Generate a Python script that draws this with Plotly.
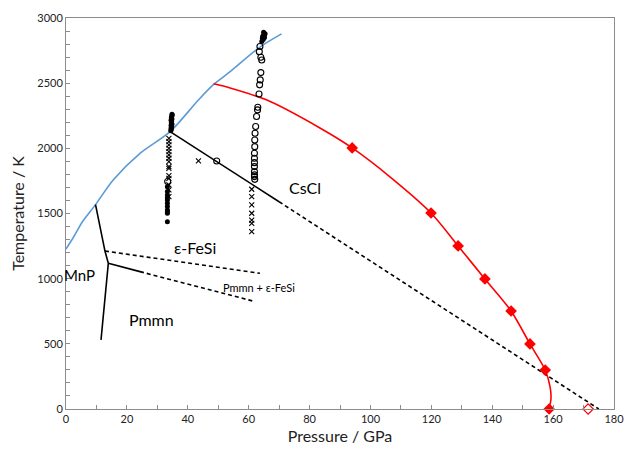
import plotly.graph_objects as go

# Melting curve (blue)
melt_p = [0, 2.5, 5.5, 9.7, 15.5, 24.3, 34.2, 43.5, 48.5, 53.9, 63.7, 70.8]
melt_t = [1228, 1320, 1440, 1568, 1757, 1962, 2128, 2371, 2490, 2588, 2777, 2878]

# Red curve and markers
red_p = [48.5, 53.9, 66, 83.4, 94, 107, 119.9, 128.8, 137.6, 146.2, 152.4, 157.4, 159.0, 159.3, 158.7]
red_t = [2495, 2463, 2370, 2156, 2003, 1770, 1504, 1251, 998, 752, 499, 299, 170, 80, 0]
red_mk_p = [94, 119.9, 128.8, 137.6, 146.2, 152.4, 157.4, 158.7]
red_mk_t = [2003, 1504, 1251, 998, 752, 499, 299, 0]
red_open_p = [171.5]
red_open_t = [0]

# CsCl boundary
cscl_solid_p = [34.2, 70]
cscl_solid_t = [2128, 1590]
cscl_dash_p = [70, 175]
cscl_dash_t = [1590, 0]

# Triple point boundaries
mnp_p = [9.7, 12.8, 13.9, 11.5]
mnp_t = [1568, 1212, 1118, 530]
upper_dash_p = [12.8, 63.7]
upper_dash_t = [1212, 1041]
lower_solid_p = [13.9, 24.3]
lower_solid_t = [1118, 1054]
lower_dash_p = [24.3, 62.1]
lower_dash_t = [1054, 824]

# Experimental points: x markers
xm_p = [33.8]*15 + [43.5] + [61.0]*7
xm_t = [2077, 2052, 2026, 2000, 1975, 1949, 1924, 1898, 1860, 1847, 1790, 1770, 1719, 1681, 1630,
        1903,
        1686, 1630, 1566, 1502, 1450, 1425, 1361]
# filled circles
fc_p = [33.3]*11 + [34.4, 34.6, 34.5, 34.7, 34.5, 34.8, 34.6, 34.7, 34.5, 34.8, 34.6, 34.7, 34.9, 34.8] + \
       [64.3, 64.8, 65.2, 64.6, 65.0, 65.4, 64.9, 64.5, 65.1]
fc_t = [1706, 1668, 1642, 1620, 1604, 1578, 1553, 1527, 1514, 1501, 1437] + \
       [2135, 2145, 2155, 2165, 2175, 2185, 2195, 2205, 2215, 2225, 2235, 2245, 2255, 2262] + \
       [2820, 2835, 2850, 2860, 2870, 2880, 2890, 2845, 2865]
# open circles
oc_p = [33.4, 49.5, 63.7, 63.5, 64.0, 64.3, 64.0, 63.8, 63.6, 63.4, 63.0, 62.9, 62.6, 62.3, 62.1,
        62.0, 62.0, 61.9, 61.9, 61.9, 61.9, 61.9, 61.9, 61.9, 62.0]
oc_t = [1745, 1903, 2781, 2742, 2699, 2678, 2581, 2525, 2487, 2417, 2315, 2295, 2244, 2167, 2116,
        2064, 2013, 1962, 1924, 1890, 1860, 1821, 1796, 1783, 1762]

# Region labels
lab_text = ["MnP", "ε-FeSi", "Pmmn", "CsCl", "Pmmn + ε-FeSi"]
lab_p = [4.5, 42.4, 28.0, 78.5, 63.4]
lab_t = [1030, 1236, 683, 1703, 929]
lab_size = [15, 16, 16, 16, 11]

FONT = "Lato"
fig = go.Figure()

def line(x, y, color, width=1.6, dash="solid", shape="linear"):
    fig.add_trace(go.Scatter(x=x, y=y, mode="lines",
                             line=dict(color=color, width=width, dash=dash, shape=shape, smoothing=0.8),
                             showlegend=False, hoverinfo="skip", cliponaxis=False))

line(melt_p, melt_t, "#5B9BD5", 1.6, shape="spline")
line(red_p, red_t, "#FF0000", 1.6, shape="spline")
line(cscl_solid_p, cscl_solid_t, "black", 1.6)
line(cscl_dash_p, cscl_dash_t, "black", 1.6, dash="4px,3px")
line(mnp_p, mnp_t, "black", 1.6)
line(upper_dash_p, upper_dash_t, "black", 1.6, dash="4px,3px")
line(lower_solid_p, lower_solid_t, "black", 1.6)
line(lower_dash_p, lower_dash_t, "black", 1.6, dash="4px,3px")

fig.add_trace(go.Scatter(x=xm_p, y=xm_t, mode="markers",
                         marker=dict(symbol="x-thin", size=5, color="black", line=dict(color="black", width=1.1)),
                         showlegend=False))
fig.add_trace(go.Scatter(x=fc_p, y=fc_t, mode="markers",
                         marker=dict(symbol="circle", size=5, color="black"),
                         showlegend=False))
fig.add_trace(go.Scatter(x=oc_p, y=oc_t, mode="markers",
                         marker=dict(symbol="circle-open", size=6, color="black", line=dict(color="black", width=1.1)),
                         showlegend=False))
fig.add_trace(go.Scatter(x=red_mk_p, y=red_mk_t, mode="markers", cliponaxis=False,
                         marker=dict(symbol="diamond", size=9, color="#FF0000"),
                         showlegend=False))
fig.add_trace(go.Scatter(x=red_open_p, y=red_open_t, mode="markers", cliponaxis=False,
                         marker=dict(symbol="diamond", size=8, color="white", line=dict(color="#FF0000", width=1.2)),
                         showlegend=False))

for t, x, y, s in zip(lab_text, lab_p, lab_t, lab_size):
    fig.add_annotation(x=x, y=y, text=t, showarrow=False, font=dict(size=s, color="black", family=FONT))

axis_common = dict(showgrid=False, zeroline=False, showline=True, linecolor="#8c8c8c", linewidth=1,
                   mirror=True, ticks="inside", ticklen=4, tickcolor="#8c8c8c", automargin=False,
                   tickfont=dict(size=11, color="#222", family=FONT))
fig.update_xaxes(range=[0, 180], dtick=20, tick0=0,
                 minor=dict(dtick=10, ticks="inside", ticklen=4, tickcolor="#8c8c8c"),
                 title=dict(text="Pressure / GPa", font=dict(size=16, color="#222", family=FONT), standoff=6),
                 **axis_common)
fig.update_yaxes(range=[0, 3000], dtick=500, tick0=0,
                 minor=dict(dtick=100, ticks="inside", ticklen=4, tickcolor="#8c8c8c"),
                 title=dict(text="Temperature / K", font=dict(size=16, color="#222", family=FONT), standoff=8),
                 **axis_common)
fig.update_layout(width=627, height=455, margin=dict(l=66, r=13, t=18, b=46, autoexpand=False),
                  plot_bgcolor="white", paper_bgcolor="white", font=dict(family=FONT))
fig.write_html("out.html", config={"displayModeBar": False},
               post_script="document.body.style.margin='0px';document.body.style.overflow='hidden';")
